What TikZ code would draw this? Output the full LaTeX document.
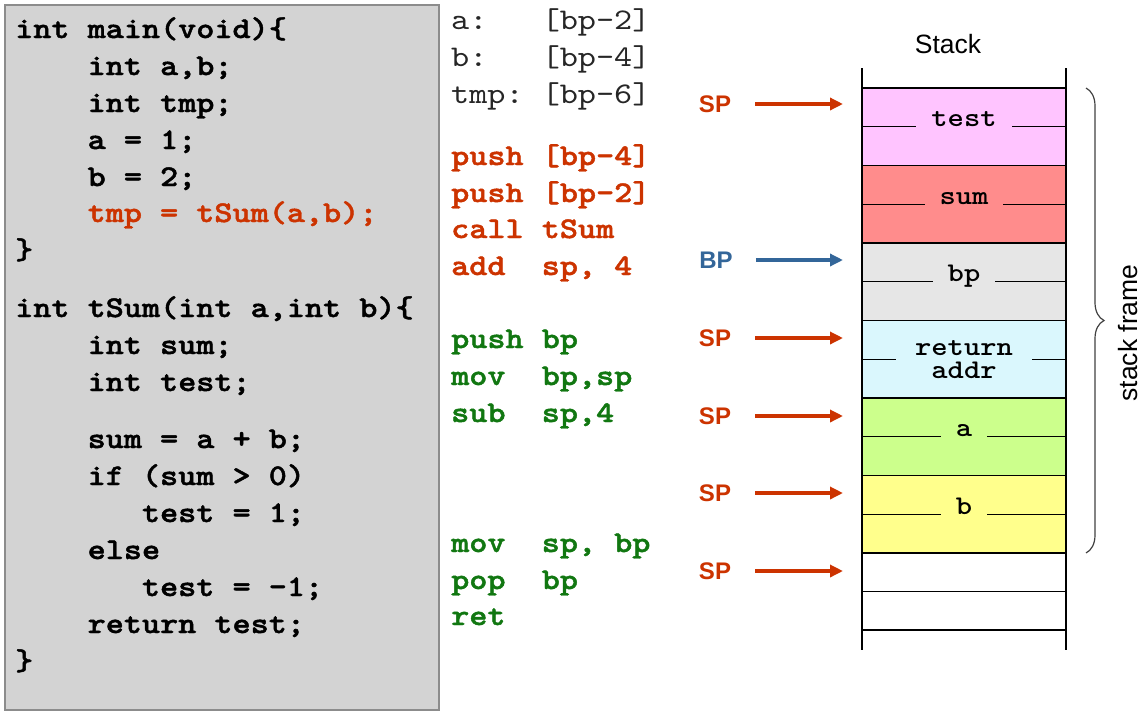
\documentclass[tikz,border=0pt]{standalone}
\usepackage{fontspec}
\setsansfont{Liberation Sans}
\newfontfamily\codefont{lmmono10-regular.otf}[FakeStretch=1.15,BoldFont=lmmonolt10-bold.otf,BoldFeatures={FakeBold=1.5}]
\newfontfamily\slotfont{lmmonolt10-bold.otf}[FakeStretch=1.15]
\usetikzlibrary{positioning}
\usetikzlibrary{arrows.meta}
\usetikzlibrary{decorations.pathreplacing}

\definecolor{codegray}{HTML}{D3D3D3}
\definecolor{boxgray}{HTML}{8C8C8C}
\definecolor{asmred}{HTML}{CC3300}
\definecolor{asmgreen}{HTML}{117711}
\definecolor{bpblue}{HTML}{336699}
\definecolor{bracegray}{HTML}{404040}
\definecolor{testpink}{HTML}{FFC4FF}
\definecolor{sumred}{HTML}{FF8C8C}
\definecolor{bpgray}{HTML}{E6E6E6}
\definecolor{retcyan}{HTML}{DAF7FD}
\definecolor{agreen}{HTML}{CCFF8C}
\definecolor{byellow}{HTML}{FFFF8C}

\tikzset{
  src/.style={font=\codefont\bfseries\fontsize{30}{37}\selectfont,anchor=base west,inner sep=0pt},
  asm/.style={font=\codefont\fontsize{30}{37}\selectfont,anchor=base west,inner sep=0pt,text=black!85},
  cell/.style={draw,line width=1.2pt,minimum width=204pt,inner sep=0pt,outer sep=0pt},
  slotlbl/.style={font=\slotfont\fontsize{27}{23}\selectfont,inner xsep=15pt,inner ysep=3pt},
  ptr/.style={font=\sffamily\bfseries\fontsize{24}{28}\selectfont,inner sep=0pt},
  title/.style={font=\sffamily\fontsize{26.5}{30}\selectfont,inner sep=0pt},
  redarrow/.style={draw=asmred,line width=3.5pt,-{Triangle[length=13pt,width=12pt]},shorten >=19pt},
  bluearrow/.style={draw=bpblue,line width=3.5pt,-{Triangle[length=13pt,width=12pt]},shorten >=19pt},
}

\begin{document}
\begin{tikzpicture}[x=1pt,y=-1pt]
\useasboundingbox (0,0) rectangle (1141,713);

% C source
\draw[fill=codegray,draw=boxgray,line width=1.5pt] (5,5) rectangle (439,710);
\node[src] (m1) at (15,38) {int main(void)\{};
\node[src] (m2) at (15,75) {~~~~int a,b;};
\node[src] (m3) at (15,112) {~~~~int tmp;};
\node[src] (m4) at (15,149) {~~~~a = 1;};
\node[src] (m5) at (15,186) {~~~~b = 2;};
\node[src,text=asmred] (m6) at (15,222) {~~~~tmp = tSum(a,b);};
\node[src] (m7) at (15,259) {\}};
\node[src] (s1) at (15,317) {int tSum(int a,int b)\{};
\node[src] (s2) at (15,354) {~~~~int sum;};
\node[src] (s3) at (15,391) {~~~~int test;};
\node[src] (s4) at (15,448) {~~~~sum = a + b;};
\node[src] (s5) at (15,485) {~~~~if (sum > 0)};
\node[src] (s6) at (15,522) {~~~~~~~test = 1;};
\node[src] (s7) at (15,559) {~~~~else};
\node[src] (s8) at (15,596) {~~~~~~~test = -1;};
\node[src] (s9) at (15,633) {~~~~return test;};
\node[src] (s10) at (15,670) {\}};

% assembly
\node[asm] (v1) at (451,29) {a:~~~[bp-2]};
\node[asm] (v2) at (451,66) {b:~~~[bp-4]};
\node[asm] (v3) at (451,103) {tmp:~[bp-6]};
\node[src,text=asmred] (c1) at (451,165) {push [bp-4]};
\node[src,text=asmred] (c2) at (451,202) {push [bp-2]};
\node[src,text=asmred] (c3) at (451,238) {call tSum};
\node[src,text=asmred] (c4) at (451,275) {add~~sp, 4};
\node[src,text=asmgreen] (p1) at (451,348) {push bp};
\node[src,text=asmgreen] (p2) at (451,385) {mov~~bp,sp};
\node[src,text=asmgreen] (p3) at (451,422) {sub~~sp,4};
\node[src,text=asmgreen] (e1) at (451,552) {mov~~sp, bp};
\node[src,text=asmgreen] (e2) at (451,589) {pop~~bp};
\node[src,text=asmgreen] (e3) at (451,625) {ret};

% stack
\node[title] (stacktitle) at (948,44) {Stack};
\node[cell,fill=testpink,minimum height=77.5pt] (test) at (964,126.75) {};
\node[cell,fill=sumred,minimum height=77.5pt,below=0pt of test] (sum) {};
\node[cell,fill=bpgray,minimum height=77.5pt,below=0pt of sum] (oldbp) {};
\node[cell,fill=retcyan,minimum height=77.5pt,below=0pt of oldbp] (retaddr) {};
\node[cell,fill=agreen,minimum height=77.5pt,below=0pt of retaddr] (parama) {};
\node[cell,fill=byellow,minimum height=77.5pt,below=0pt of parama] (paramb) {};
\node[cell,minimum height=38.5pt,below=0pt of paramb] (free1) {};
\node[cell,minimum height=38.5pt,below=0pt of free1] (free2) {};

\draw[line width=1.2pt] ([yshift=20pt]test.north west) -- ([yshift=-20pt]free2.south west);
\draw[line width=1.2pt] ([yshift=20pt]test.north east) -- ([yshift=-20pt]free2.south east);

\draw[line width=1.2pt] (test.west) -- (test.east);
\draw[line width=1.2pt] (sum.west) -- (sum.east);
\draw[line width=1.2pt] (oldbp.west) -- (oldbp.east);
\draw[line width=1.2pt] (retaddr.west) -- (retaddr.east);
\draw[line width=1.2pt] (parama.west) -- (parama.east);
\draw[line width=1.2pt] (paramb.west) -- (paramb.east);
\node[slotlbl,fill=testpink,anchor=base] (testlbl) at (test.center) {test};
\node[slotlbl,fill=sumred,anchor=base] (sumlbl) at (sum.center) {sum};
\node[slotlbl,fill=bpgray,anchor=base] (bplbl) at (oldbp.center) {bp};
\node[slotlbl,fill=retcyan,align=center,inner xsep=19pt,inner ysep=0pt] (retlbl) at (retaddr.center) {return\\addr};
\node[slotlbl,fill=agreen,anchor=base] (albl) at (parama.center) {a};
\node[slotlbl,fill=byellow,anchor=base] (blbl) at (paramb.center) {b};

% pointers
\node[ptr,text=asmred] (sp1) at (715,104) {SP};
\draw[redarrow] ([xshift=24pt]sp1.east) -- (sp1.east -| test.west);
\node[ptr,text=bpblue] (bp1) at (716,260) {BP};
\draw[bluearrow] ([xshift=23pt]bp1.east) -- (bp1.east -| oldbp.west);
\node[ptr,text=asmred] (sp2) at (715,338) {SP};
\draw[redarrow] ([xshift=24pt]sp2.east) -- (sp2.east -| retaddr.west);
\node[ptr,text=asmred] (sp3) at (715,416) {SP};
\draw[redarrow] ([xshift=24pt]sp3.east) -- (sp3.east -| parama.west);
\node[ptr,text=asmred] (sp4) at (715,493) {SP};
\draw[redarrow] ([xshift=24pt]sp4.east) -- (sp4.east -| paramb.west);
\node[ptr,text=asmred] (sp5) at (715,571) {SP};
\draw[redarrow] ([xshift=24pt]sp5.east) -- (sp5.east -| free1.west);

% frame brace
\coordinate (ftop) at ([xshift=20pt]test.north east);
\coordinate (fbot) at ([xshift=20pt]paramb.south east);
\draw[decorate,decoration={brace,amplitude=18pt},draw=bracegray,line width=1.2pt] (ftop) -- (fbot);
\node[title,rotate=90] (framelbl) at (1128,333) {stack frame};

\end{tikzpicture}
\end{document}
